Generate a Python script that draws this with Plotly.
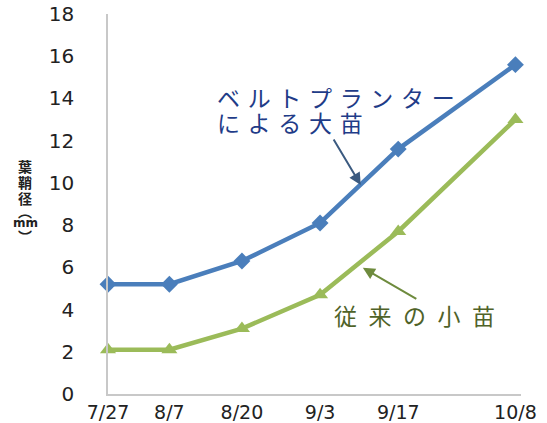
import plotly.graph_objects as go

dates = ["2013-07-27", "2013-08-07", "2013-08-20", "2013-09-03", "2013-09-17", "2013-10-08"]
tick_labels = ["7/27", "8/7", "8/20", "9/3", "9/17", "10/8"]
large_seedling = [5.2, 5.2, 6.3, 8.1, 11.6, 15.6]   # ベルトプランターによる大苗
small_seedling = [2.1, 2.1, 3.1, 4.7, 7.7, 13.0]    # 従来の小苗

BLUE = "#4A7EBB"
GREEN = "#9BBB59"
SP3 = "\u2004"
SP2 = "\u2002"

fig = go.Figure()
fig.add_trace(go.Scatter(
    x=dates, y=large_seedling, mode="lines+markers",
    line=dict(color=BLUE, width=4.5),
    marker=dict(symbol="diamond", size=13, color=BLUE),
    cliponaxis=False, showlegend=False))
fig.add_trace(go.Scatter(
    x=dates, y=small_seedling, mode="lines+markers",
    line=dict(color=GREEN, width=4.5),
    marker=dict(symbol="triangle-up", size=14, color=GREEN),
    cliponaxis=False, showlegend=False))

fig.update_layout(
    width=547, height=423,
    margin=dict(l=108, r=26, t=14, b=29),
    plot_bgcolor="white", paper_bgcolor="white",
    font=dict(family="DejaVu Sans", color="#222222"),
    xaxis=dict(
        type="date", range=["2013-07-27", "2013-10-09"],
        tickvals=dates, ticktext=tick_labels,
        showgrid=False, zeroline=False, automargin=False,
        showline=True, linecolor="#C8C8C8", linewidth=1.5,
        ticks="", tickfont=dict(size=19, color="#222222"),
    ),
    yaxis=dict(
        range=[0, 18], dtick=2, tick0=0,
        showgrid=False, zeroline=False, automargin=False,
        showline=True, linecolor="#C8C8C8", linewidth=1.5,
        ticks="", ticklabelstandoff=28,
        tickfont=dict(size=20, color="#222222"),
    ),
)

# y-axis title: vertical stacked characters (pixel centre y -> paper y)
title_chars = [("葉", 166), ("鞘", 182), ("径", 198), ("︵", 211), ("mm", 223), ("︶", 236)]
annotations = []
for ch, py in title_chars:
    if ch == "mm":
        f = dict(family="DejaVu Sans", size=12, color="#222222", weight="bold")
    else:
        f = dict(family="Noto Sans CJK JP", size=14, color="#222222", weight="bold")
    annotations.append(dict(text=ch, xref="paper", yref="paper",
                            x=(25 - 108) / 413, y=(394 - py) / 380,
                            xanchor="center", yanchor="middle", showarrow=False, font=f))

annotations += [
    # blue label (two lines)
    dict(text=SP3.join("ベルトプランター"), xref="paper", yref="paper",
         x=0.258, y=(394 - 97) / 380, xanchor="left", yanchor="middle", showarrow=False,
         font=dict(family="Noto Sans CJK JP", size=23, color="#1F3C88")),
    dict(text=SP3.join("による大苗"), xref="paper", yref="paper",
         x=0.258, y=(394 - 122) / 380, xanchor="left", yanchor="middle", showarrow=False,
         font=dict(family="Noto Sans CJK JP", size=23, color="#1F3C88")),
    dict(text="", xref="paper", yref="paper", x=0.612, y=0.55,
         ax=-28, ay=-47, showarrow=True, arrowhead=2, arrowsize=1.2, arrowwidth=2,
         arrowcolor="#3B5A80"),
    # green label
    dict(text=SP2.join("従来の小苗"), xref="paper", yref="paper",
         x=0.542, y=(394 - 315) / 380, xanchor="left", yanchor="middle", showarrow=False,
         font=dict(family="Noto Sans CJK JP", size=23, color="#4F6228")),
    dict(text="", xref="paper", yref="paper", x=0.617, y=0.332,
         ax=55, ay=32, showarrow=True, arrowhead=2, arrowsize=1.2, arrowwidth=2,
         arrowcolor="#6E8B3D"),
]
fig.update_layout(annotations=annotations)

fig.write_html("out.html")
